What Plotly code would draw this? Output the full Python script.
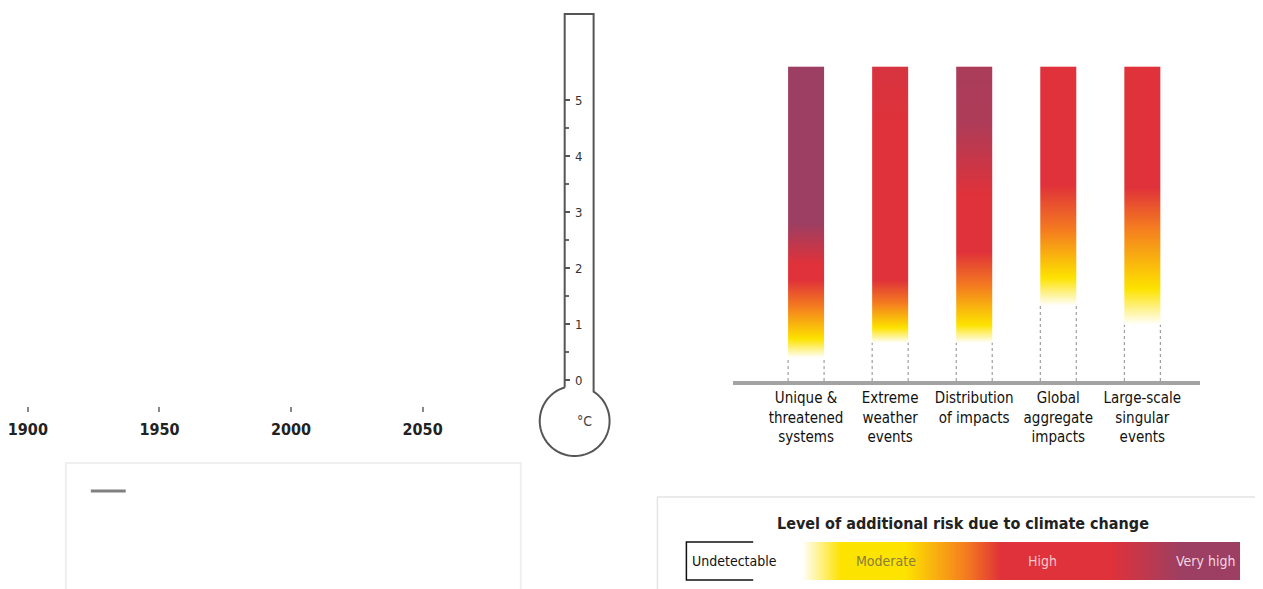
import numpy as np
import plotly.graph_objects as go

W, H = 1263, 589
OFF = 8  # page body margin of the exported html

# ---------------- data ----------------
years = [1900, 1950, 2000, 2050]

thermo_ticks = [0, 1, 2, 3, 4, 5]
thermo_minor = [0.5, 1.5, 2.5, 3.5, 4.5]

categories = [
    "Unique &<br>threatened<br>systems",
    "Extreme<br>weather<br>events",
    "Distribution<br>of impacts",
    "Global<br>aggregate<br>impacts",
    "Large-scale<br>singular<br>events",
]

# risk level vs. warming (deg C): 0 undetectable, 1 moderate, 2 orange, 3 high, 4 very high
unique_T = [0.0, 0.42, 0.75, 1.35, 1.8, 2.1, 2.8, 5.6]
unique_risk = [0, 0, 1, 2, 3, 3, 4, 4]
extreme_T = [0.0, 0.68, 0.95, 1.4, 1.8, 4.5, 5.6]
extreme_risk = [0, 0, 1, 2, 3, 3, 3.15]
distrib_T = [0.0, 0.68, 1.0, 1.7, 2.3, 3.3, 4.6, 5.6]
distrib_risk = [0, 0, 1, 2, 3, 3, 3.75, 3.8]
global_T = [0.0, 1.35, 1.85, 2.7, 3.5, 5.6]
global_risk = [0, 0, 1, 2, 3, 3]
singular_T = [0.0, 1.0, 1.65, 2.75, 3.45, 5.6]
singular_risk = [0, 0, 1, 2, 3, 3]

legend_pos = [0.0, 0.207, 0.279, 0.396, 0.505, 0.568, 0.766, 0.892, 1.0]
legend_risk = [0, 0, 1, 1, 2, 3, 3, 4, 4]
legend_labels = ["Undetectable", "Moderate", "High", "Very high"]
legend_label_pos = [0.006, 0.36, 0.643, 0.937]
legend_label_colors = ["#111111", "#8a7d3c", "#f6c9c9", "#f1d6e0"]

risk_colors = [[0.0, "#FFFFFF"], [0.25, "#FDE300"], [0.5, "#F47B20"],
               [0.75, "#E0323A"], [1.0, "#9D3F62"]]

FONT = "Liberation Sans Narrow, DejaVu Sans Condensed, Roboto, Arial, sans-serif"


def fx(px):
    return (px - OFF) / W


def fy(py):
    return 1 - (py - OFF) / H


fig = go.Figure()

# ---- timeline axis (left) ----
fig.add_trace(go.Scatter(x=years, y=[0] * len(years), mode="none",
                         xaxis="x", yaxis="y", hoverinfo="skip"))

# ---- thermometer scale ----
fig.add_trace(go.Scatter(x=[0.5] * len(thermo_ticks), y=thermo_ticks, mode="none",
                         xaxis="x2", yaxis="y2", hoverinfo="skip"))

# ---- burning-ember bars ----
bar_T = [unique_T, extreme_T, distrib_T, global_T, singular_T]
bar_risk = [unique_risk, extreme_risk, distrib_risk, global_risk, singular_risk]
half = 0.214
for i, (T, r) in enumerate(zip(bar_T, bar_risk)):
    fig.add_trace(go.Heatmap(
        x=[i - half, i, i + half], y=T, z=[[v, v] for v in r],
        zmin=0, zmax=4, colorscale=risk_colors, zsmooth="best",
        showscale=False, xaxis="x3", yaxis="y3", hoverinfo="skip"))

# ---- legend colour bar ----
fig.add_trace(go.Heatmap(
    x=legend_pos, y=[0, 1], z=[legend_risk, legend_risk],
    zmin=0, zmax=4, colorscale=risk_colors, zsmooth="best",
    showscale=False, xaxis="x4", yaxis="y4", hoverinfo="skip"))

# ---------------- shapes ----------------
shapes = []
# thermometer outline
cx, cy, r = 573, 421, 35
a0 = np.degrees(np.arctan2(-np.sqrt(r**2 - (592 - cx) ** 2), 592 - cx))
a1 = np.degrees(np.arctan2(-np.sqrt(r**2 - (563 - cx) ** 2), 563 - cx)) + 360
ang = np.radians(np.linspace(a0, a1, 80))
pts = [(563, cy + r * np.sin(ang[-1])), (563, 14), (592, 14), (592, cy + r * np.sin(ang[0]))]
pts += [(cx + r * np.cos(a), cy + r * np.sin(a)) for a in ang]
path = "M " + " L ".join(f"{fx(x):.5f},{fy(y):.5f}" for x, y in pts)
shapes.append(dict(type="path", path=path, xref="paper", yref="paper",
                   line=dict(color="#555555", width=2)))

# faint box lower-left with a short legend stroke
shapes.append(dict(type="rect", xref="paper", yref="paper", x0=fx(63), x1=fx(519),
                   y0=fy(610), y1=fy(463), line=dict(color="#efefef", width=2)))
shapes.append(dict(type="line", xref="paper", yref="paper", x0=fx(88), x1=fx(123),
                   y0=fy(491), y1=fy(491), line=dict(color="#808080", width=3)))

# legend frame
shapes.append(dict(type="rect", xref="paper", yref="paper", x0=fx(656), x1=fx(1258),
                   y0=fy(610), y1=fy(497), line=dict(color="#e4e4e4", width=1.5)))
# open black box round "Undetectable"
shapes.append(dict(type="path", xref="paper", yref="paper",
                   path=f"M {fx(752)},{fy(542)} L {fx(685)},{fy(542)} L {fx(685)},{fy(580)} L {fx(752)},{fy(580)}",
                   line=dict(color="#111111", width=1.5)))

# dotted bar edges in the undetectable part
for i, (T, r) in enumerate(zip(bar_T, bar_risk)):
    top = T[1]
    for sx in (i - half, i + half):
        shapes.append(dict(type="line", xref="x3", yref="y3", x0=sx, x1=sx, y0=0, y1=top,
                           line=dict(color="#8a8a8a", width=1, dash="dot")))

# ---------------- annotations ----------------
ann = []
ann.append(dict(text="°C", x=fx(583), y=fy(421), xref="paper", yref="paper",
                xanchor="center", yanchor="middle",
                showarrow=False, font=dict(family=FONT, size=14, color="#444444")))
ann.append(dict(text="<b>Level of additional risk due to climate change</b>",
                x=fx(962), y=fy(523), xref="paper", yref="paper", showarrow=False,
                xanchor="center", yanchor="middle",
                font=dict(family=FONT, size=16, color="#222222")))
for lab, p, c in zip(legend_labels, legend_label_pos, legend_label_colors):
    ann.append(dict(text=lab, x=p, y=0.5, xref="x4", yref="y4", showarrow=False,
                    xanchor="left" if p < 0.05 else "center", yanchor="middle",
                    font=dict(family=FONT, size=14, color=c)))

# ---------------- layout ----------------
T_lo = (380 - (H + OFF)) / 56.0
T_hi = (380 - OFF) / 56.0
pxyr = 2.638
x_at0 = 1900 - (24.9 - OFF) / pxyr
fig.update_layout(
    width=W, height=H, margin=dict(l=0, r=0, t=0, b=0),
    paper_bgcolor="white", plot_bgcolor="rgba(0,0,0,0)", showlegend=False,
    xaxis=dict(domain=[0, fx(528)], range=[x_at0, x_at0 + 520 / pxyr], anchor="y",
               tickvals=years, ticks="outside", ticklen=5, tickwidth=1.5, tickcolor="#888888",
               ticklabeloverflow="allow", ticklabelstandoff=4,
               showgrid=False, zeroline=False, showline=False,
               tickfont=dict(family=FONT, size=16, color="#222222", weight="bold")),
    yaxis=dict(domain=[fy(406), 1], visible=False, range=[0, 1]),
    xaxis2=dict(domain=[fx(563), fx(592)], range=[0, 1], anchor="y2", visible=False),
    yaxis2=dict(domain=[0, 1], range=[T_lo, T_hi], anchor="x2",
                tickvals=thermo_ticks, ticks="inside", ticklen=5, tickwidth=1.5,
                tickcolor="#555555", ticklabelposition="inside", ticklabelstandoff=5,
                minor=dict(tickvals=thermo_minor, ticks="inside", ticklen=4, tickcolor="#666666"),
                showgrid=False, zeroline=False, showline=False,
                tickfont=dict(family=FONT, size=13, color="#333333")),
    xaxis3=dict(domain=[fx(732), fx(1200)], range=[-0.866, 4.688], anchor="y3",
                tickvals=list(range(len(categories))), ticktext=categories,
                ticks="", showline=True, linewidth=4, linecolor="#a3a3a3",
                showgrid=False, zeroline=False,
                tickfont=dict(family=FONT, size=15, color="#111111")),
    yaxis3=dict(domain=[fy(381), fy(66.4)], range=[0, 5.6], visible=False),
    xaxis4=dict(domain=[fx(685), fx(1240)], range=[0, 1], anchor="y4", visible=False),
    yaxis4=dict(domain=[fy(580), fy(542)], range=[0, 1], visible=False),
    shapes=shapes, annotations=ann,
)

fig.write_html("out.html")
